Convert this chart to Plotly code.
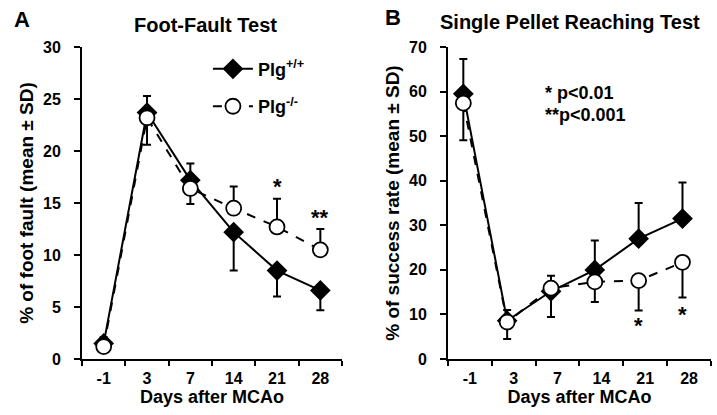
import plotly.graph_objects as go

days = ["-1", "3", "7", "14", "21", "28"]

# Foot-fault test (% of foot fault)
ff_wt = [1.5, 23.7, 17.2, 12.2, 8.5, 6.6]
ff_wt_up = [0.6, 1.6, 1.6, 0, 0, 0]
ff_wt_down = [0, 0, 0, 3.7, 2.5, 1.9]
ff_ko = [1.2, 23.2, 16.4, 14.5, 12.7, 10.5]
ff_ko_up = [0, 0, 0, 2.1, 2.7, 2.0]
ff_ko_down = [0, 2.6, 1.5, 0, 0, 0]
ff_stars = ["", "", "", "", "*", "**"]
ff_star_y = [0, 0, 0, 0, 16.6, 13.6]

# Single pellet reaching test (% of success rate)
sp_wt = [59.5, 8.6, 15.2, 20.0, 27.0, 31.5]
sp_wt_up = [7.8, 2.4, 3.5, 6.6, 8.0, 8.1]
sp_wt_down = [0, 0, 0, 0, 0, 0]
sp_ko = [57.4, 8.3, 15.9, 17.3, 17.6, 21.7]
sp_ko_up = [0, 0, 0, 0, 0, 0]
sp_ko_down = [8.3, 3.8, 6.5, 4.5, 6.7, 7.9]
sp_stars = ["", "", "", "", "*", "*"]
sp_star_y = [0, 0, 0, 0, 7.6, 10.0]

FONT = "Arial, Liberation Sans, sans-serif"
idx = list(range(len(days)))
idx_b = [i - 0.15 for i in idx]

fig = go.Figure()


def add_series(x, y, up, down, xa, ya, name, dash, symbol, fill, size, show):
    fig.add_trace(go.Scatter(
        x=x, y=y, xaxis=xa, yaxis=ya, name=name, legendgroup=name,
        mode="lines+markers", showlegend=show,
        line=dict(color="black", width=2, dash=dash),
        marker=dict(symbol=symbol, size=size, color=fill,
                    line=dict(color="black", width=1.8)),
        error_y=dict(type="data", symmetric=False, array=up, arrayminus=down,
                     color="black", thickness=2, width=4),
    ))


add_series(idx, ff_wt, ff_wt_up, ff_wt_down, "x", "y", "Plg<sup>+/+</sup>",
           "solid", "diamond", "black", 14, True)
add_series(idx, ff_ko, ff_ko_up, ff_ko_down, "x", "y", "Plg<sup>-/-</sup>",
           "dash", "circle", "white", 15, True)
add_series(idx_b, sp_wt, sp_wt_up, sp_wt_down, "x2", "y2", "wt_b",
           "solid", "diamond", "black", 14, False)
add_series(idx_b, sp_ko, sp_ko_up, sp_ko_down, "x2", "y2", "ko_b",
           "dash", "circle", "white", 15, False)

ann = []
for i, s in enumerate(ff_stars):
    if s:
        ann.append(dict(x=idx[i], y=ff_star_y[i], xref="x", yref="y", text=s,
                        font=dict(size=22)))
for i, s in enumerate(sp_stars):
    if s:
        ann.append(dict(x=idx_b[i], y=sp_star_y[i], xref="x2", yref="y2", text=s,
                        font=dict(size=22)))

ann += [
    dict(x=0.031, y=0.952, text="A", font=dict(size=22)),
    dict(x=0.548, y=0.959, text="B", font=dict(size=22)),
    dict(x=0.286, y=0.94, text="Foot-Fault Test", font=dict(size=20)),
    dict(x=0.795, y=0.947, text="Single Pellet Reaching Test", font=dict(size=20)),
    dict(x=0.757, y=0.776, text="* p<0.01", xanchor="left", font=dict(size=18)),
    dict(x=0.757, y=0.723, text="**p<0.001", xanchor="left", font=dict(size=18)),
]
for a in ann:
    a.setdefault("xref", "paper")
    a.setdefault("yref", "paper")
    a.setdefault("xanchor", "center")
    a.setdefault("yanchor", "middle")
    a["showarrow"] = False

xcommon = dict(
    range=[-0.5, 5.5], tickvals=idx, ticktext=days, ticks="", showgrid=False,
    zeroline=False, showline=True, linecolor="black", linewidth=2,
    tickfont=dict(size=16), automargin=False, ticklabelstandoff=4,
    minor=dict(tick0=-0.5, dtick=1, ticks="outside", ticklen=5,
               tickwidth=2, tickcolor="black", showgrid=False),
    title=dict(text="Days after MCAo", font=dict(size=18), standoff=2),
)
ycommon = dict(
    showgrid=False, zeroline=False, showline=True, linecolor="black",
    linewidth=2, ticks="outside", ticklen=6, tickwidth=2, tickcolor="black",
    tickfont=dict(size=16), automargin=False, ticklabelstandoff=10,
)

fig.update_layout(
    width=717, height=415,
    margin=dict(l=0, r=0, t=0, b=0),
    paper_bgcolor="white", plot_bgcolor="white",
    font=dict(family=FONT, color="black", weight="bold"),
    xaxis=dict(domain=[0.1144, 0.477], anchor="y", **xcommon),
    yaxis=dict(domain=[0.1349, 0.8867], anchor="x", range=[0, 30],
               dtick=5, title=dict(text="% of foot fault (mean ± SD)",
                                   font=dict(size=19), standoff=4), **ycommon),
    xaxis2=dict(domain=[0.6248, 0.9916], anchor="y2", **xcommon),
    yaxis2=dict(domain=[0.1349, 0.8867], anchor="x2", range=[0, 70],
                dtick=10, title=dict(text="% of success rate (mean ± SD)",
                                     font=dict(size=19), standoff=4), **ycommon),
    legend=dict(x=0.29, y=0.878, xanchor="left", yanchor="top",
                bgcolor="rgba(0,0,0,0)", font=dict(size=18),
                itemwidth=40, tracegroupgap=11),
    annotations=ann,
)

fig.write_html("out.html", config={"displayModeBar": False},
               post_script="document.body.style.margin='0';")
